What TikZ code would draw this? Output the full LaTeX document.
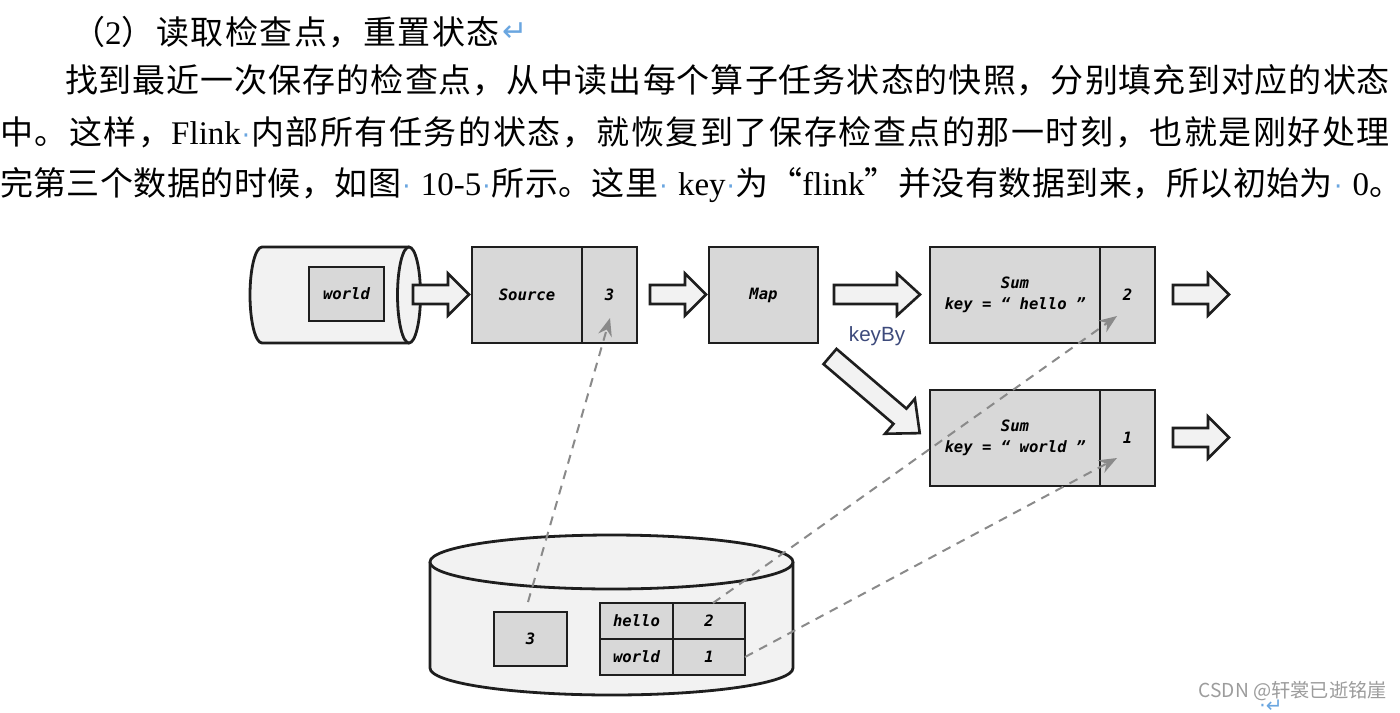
\documentclass[tikz,border=0pt]{standalone}
\usepackage{fontspec}
\setmainfont{Liberation Serif}
\newfontfamily\cjk{Noto Sans CJK SC}
\newfontfamily\monof{DejaVu Sans Mono}[ItalicFont={DejaVu Sans Mono Oblique},BoldFont={DejaVu Sans Mono Bold},BoldItalicFont={DejaVu Sans Mono Bold Oblique}]
\newfontfamily\dejavu{DejaVu Sans}
\newfontfamily\lsans{Liberation Sans}
\usetikzlibrary{arrows.meta}
\definecolor{boxgray}{HTML}{D8D8D8}
\definecolor{lightfill}{HTML}{F2F2F2}
\definecolor{dashgray}{HTML}{8A8A8A}
\definecolor{wblue}{HTML}{6AA6E0}
\definecolor{keyblue}{HTML}{3D4A7B}
\definecolor{wmgray}{HTML}{9C9C9C}
\definecolor{ink}{HTML}{1E1E1E}

\XeTeXinterchartokenstate=1
\newXeTeXintercharclass\CJKcls
\newcount\cjkcnt
\def\setcjkrange#1#2{\cjkcnt=#1\relax\loop\XeTeXcharclass\cjkcnt=\CJKcls\relax\ifnum\cjkcnt<#2\relax\advance\cjkcnt by 1\relax\repeat}
\setcjkrange{"4E00}{"9FFF}
\setcjkrange{"3000}{"303F}
\setcjkrange{"FF00}{"FFEF}
\XeTeXcharclass"201C=\CJKcls
\XeTeXcharclass"201D=\CJKcls
\XeTeXinterchartoks\CJKcls\CJKcls={\hskip0pt plus 1pt\relax}
\XeTeXinterchartoks 0 \CJKcls={\hskip0pt plus 1pt\relax}
\XeTeXinterchartoks\CJKcls 0 ={\hskip0pt plus 1pt\relax}

\newcommand\zh[1]{{\cjk #1}}
\newcommand\dotm{{\color{wblue}\dejavu\fontsize{13}{13}\selectfont\kern0.5pt·\kern0.5pt}}
\newcommand\blockarrow[6]{%
  \begin{scope}[shift={#1},rotate=#2]
    \draw[blk] (0,-#6) -- ({#3-#4},-#6) -- ({#3-#4},-#5) -- (#3,0) -- ({#3-#4},#5) -- ({#3-#4},#6) -- (0,#6) -- cycle;
  \end{scope}}

\begin{document}
\begin{tikzpicture}[x=0.5pt,y=-0.5pt,
  txt/.style={inner sep=0pt,outer sep=0pt,anchor=base west,font=\fontsize{16.5}{20}\selectfont},
  box/.style={draw=ink,line width=1.4pt,fill=boxgray,inner sep=0pt,outer sep=0pt,align=center,
     font=\monof\bfseries\itshape\fontsize{7.8}{10.5}\selectfont},
  blk/.style={draw=ink,line width=1.3pt,fill=lightfill,line join=miter},
  cylbody/.style={draw=ink,line width=1.4pt},
  dashcon/.style={draw=dashgray,line width=1pt,dash pattern=on 4.5pt off 3.5pt,
     -{Stealth[length=9pt,width=7pt,inset=3pt]}}]
\useasboundingbox (0,0) rectangle (1400,712);
\fill[white] (0,0) rectangle (1400,712);

% ---------- text ----------
\node[txt] (l1) at (72,44.5) {\makebox[214pt][s]{\zh{（}2\zh{）读取检查点，重置状态}}};
\node[anchor=west,inner sep=0pt,text=wblue,font=\dejavu\fontsize{15}{15}\selectfont] (ret1) at (502,32) {↵};
\node[txt] (l2) at (65,92.5) {\makebox[662.5pt][s]{\zh{找到最近一次保存的检查点，从中读出每个算子任务状态的快照，分别填充到对应的状态}}};
\node[txt] (l3) at (0,144) {\makebox[695pt][s]{\zh{中。这样，}Flink\dotm\zh{内部所有任务的状态，就恢复到了保存检查点的那一时刻，也就是刚好处理}}};
\node[txt] (l4) at (0,195.5) {\makebox[701pt][s]{\zh{完第三个数据的时候，如图}\dotm\ 10-5\dotm\zh{所示。这里}\dotm\ key\dotm\zh{为“}flink\zh{”并没有数据到来，所以初始为}\dotm\ 0\zh{。}}};

% ---------- source cylinder (horizontal) ----------
\path[fill=lightfill] (262,247) -- (409,247) -- (409,343) -- (262,343) arc[start angle=90,end angle=270,x radius=12,y radius=48] -- cycle;
\draw[cylbody] (409,247) -- (262,247) arc[start angle=270,end angle=90,x radius=12,y radius=48] -- (409,343);
\draw[cylbody,fill=lightfill] (409,295) ellipse[x radius=11.5,y radius=48];
\node[box,minimum width=37.5pt,minimum height=27pt] (inw) at (346.5,294) {world};

% ---------- operator boxes ----------
\node[box,minimum width=55pt,minimum height=48pt] (src) at (527,295) {Source};
\node[box,minimum width=27.5pt,minimum height=48pt] (src3) at (609.5,295) {3};
\node[box,minimum width=54.5pt,minimum height=48pt] (map) at (763.5,295) {Map};
\node[box,minimum width=85pt,minimum height=48pt] (sumh) at (1015,295) {Sum\\key = “ hello ”};
\node[box,minimum width=27.5pt,minimum height=48pt] (sumh2) at (1127.5,295) {2};
\node[box,minimum width=85pt,minimum height=48pt] (sumw) at (1015,438) {Sum\\key = “ world ”};
\node[box,minimum width=27.5pt,minimum height=48pt] (sumw1) at (1127.5,438) {1};

% ---------- block arrows ----------
\blockarrow{(413,294.5)}{0}{56}{21}{21}{9.5}
\blockarrow{(650,294.5)}{0}{56}{21}{21}{9.5}
\blockarrow{(834,294.5)}{0}{86}{23}{21}{9.5}
\blockarrow{(1173,294.5)}{0}{56}{21}{21}{9.5}
\blockarrow{(1173,437.5)}{0}{56}{21}{21}{9.5}
\blockarrow{(830,356.5)}{-40.5}{118}{26}{23}{10}
\node[font=\lsans\fontsize{10.3}{12}\selectfont,text=keyblue,inner sep=0pt] (kb) at (877,336) {keyBy};

% ---------- checkpoint storage cylinder ----------
\path[fill=lightfill] (430,562) -- (430,668) arc[start angle=180,end angle=0,x radius=181.5,y radius=27] -- (793,562) -- cycle;
\draw[cylbody] (430,562) -- (430,668) arc[start angle=180,end angle=0,x radius=181.5,y radius=27] -- (793,562);
\draw[cylbody,fill=lightfill] (611.5,562) ellipse[x radius=181.5,y radius=27];
\node[box,minimum width=36.5pt,minimum height=27pt] (ck3) at (530.5,639) {3};
\node[box,minimum width=36.5pt,minimum height=18pt] (tbh) at (636.5,621) {hello};
\node[box,minimum width=36pt,minimum height=18pt] (tb2) at (709,621) {2};
\node[box,minimum width=36.5pt,minimum height=18pt] (tbw) at (636.5,657) {world};
\node[box,minimum width=36pt,minimum height=18pt] (tb1) at (709,657) {1};

% ---------- restore connectors ----------
\coordinate (d1s) at (528,602);
\coordinate (d1e) at (610,318);
\coordinate (d2s) at (713,603);
\coordinate (d2e) at (1117,316);
\coordinate (d3e) at (1117,458);
\draw[dashcon] (d1s) -- (d1e);
\draw[dashcon] (d2s) -- (d2e);
\draw[dashcon] (tb1.east) -- (d3e);

% ---------- watermark ----------
\node[anchor=west,inner sep=0pt,text=wblue,font=\dejavu\fontsize{10}{10}\selectfont] (ret2) at (1259,706) {·↵};
\node[anchor=east,inner sep=0pt,text=wmgray,font=\cjk\fontsize{9.6}{10}\selectfont] (wm) at (1387,691) {CSDN @轩裳已逝铭崖};
\end{tikzpicture}
\end{document}
